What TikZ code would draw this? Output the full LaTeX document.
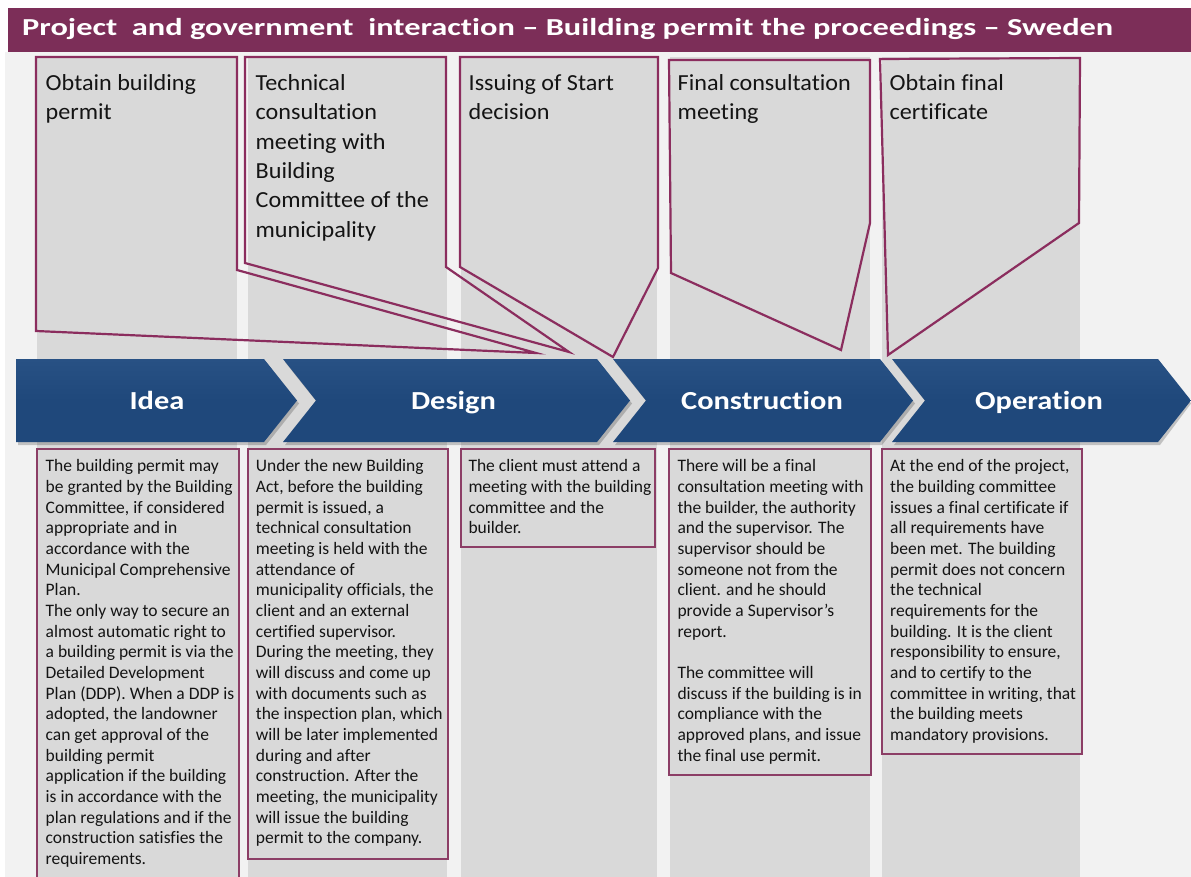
\documentclass[tikz,border=0pt]{standalone}
\usepackage{fontspec}
\usepackage{graphicx}
\setmainfont{Carlito}[Ligatures={TeX,NoCommon}]
\newfontfamily\calloutfont[FakeStretch=1.05,Ligatures=NoCommon]{Carlito}
\newfontfamily\chevfont[FakeStretch=1.17,Ligatures=NoCommon]{Carlito}
\definecolor{bgfill}{RGB}{242,242,242}
\definecolor{colfill}{RGB}{217,217,217}
\definecolor{titlebar}{RGB}{124,46,88}
\definecolor{calloutline}{RGB}{139,45,94}
\definecolor{boxline}{RGB}{140,62,102}
\definecolor{chevtop}{RGB}{40,81,132}
\definecolor{chevbot}{RGB}{31,72,123}
\definecolor{txt}{RGB}{20,20,20}
\newcommand{\ctop}{\rule{0pt}{21pt}}
\newcommand{\btop}{\rule{0pt}{16pt}}
\tikzset{
  callout/.style={draw=calloutline, line width=2.2pt, line join=miter},
  infobox/.style={draw=boxline, line width=1.2pt, fill=colfill},
  ctext/.style={anchor=north west, align=left, inner sep=0pt, text=txt,
    font=\calloutfont\fontsize{23}{29.3}\selectfont},
  btext/.style={anchor=north west, align=left, inner sep=0pt, text=txt,
    font=\fontsize{17.5}{20.67}\selectfont},
  chevlabel/.style={anchor=base, inner sep=0pt, text=white,
    font=\chevfont\bfseries\fontsize{26}{30}\selectfont},
  chevshadow/.style={fill=black, opacity=0.2},
  chevbody/.style={top color=chevtop, bottom color=chevbot, middle color=chevbot}
}
\begin{document}
\begin{tikzpicture}[x=1pt,y=-1pt]
\useasboundingbox (0,0) rectangle (1191,877);
\fill[white] (0,0) rectangle (1191,877);
\fill[bgfill] (5,52) rectangle (1191,877);
% title bar
\fill[titlebar] (8,8) rectangle (1191,52);
\node[anchor=base west, inner sep=0pt, text=white,
  font=\bfseries\fontsize{24.4}{28}\selectfont] (title) at (22,35.7)
  {\resizebox{1091pt}{\height}{Project\ \ and government\ \ interaction -- Building permit the proceedings -- Sweden}};
% gray columns
\foreach \a/\b in {37/237,248/447,461/657,670/870,882/1080}
  \fill[colfill] (\a,57) rectangle (\b,877);
% callouts
\draw[callout] (36,57) -- (237,57) -- (237,270) -- (536,353) -- (36,331) -- cycle;
\draw[callout] (245,57) -- (446,57) -- (446,267) -- (569,352) -- (245,263) -- cycle;
\draw[callout] (460,57) -- (658,57) -- (658,268) -- (613,357) -- (460,267) -- cycle;
\draw[callout] (669,60) -- (870,60) -- (870,223) -- (841,350) -- (671,273) -- cycle;
\draw[callout] (880,59) -- (1080,58) -- (1079,223) -- (888,355) -- cycle;
\node[ctext] (c1) at (45.5,69.5) {\ctop Obtain building\\permit};
\node[ctext] (c2) at (255.5,69.5) {\ctop Technical\\consultation\\meeting with\\Building\\Committee of the\\municipality};
\node[ctext] (c3) at (468.5,69.5) {\ctop Issuing of Start\\decision};
\node[ctext] (c4) at (677.5,69.5) {\ctop Final consultation\\meeting};
\node[ctext] (c5) at (889.5,69.5) {\ctop Obtain final\\certificate};
% chevrons: shadows
\begin{scope}[shift={(2,3)}]
\fill[chevshadow] (16,359) -- (264,359) -- (297,400.5) -- (264,442) -- (16,442) -- cycle;
\fill[chevshadow] (283,359) -- (597,359) -- (630,400.5) -- (597,442) -- (283,442) -- (316,400.5) -- cycle;
\fill[chevshadow] (613,359) -- (880,359) -- (913,400.5) -- (880,442) -- (613,442) -- (646,400.5) -- cycle;
\fill[chevshadow] (892,359) -- (1158,359) -- (1189,400.5) -- (1158,442) -- (892,442) -- (925,400.5) -- cycle;
\end{scope}
\shade[chevbody] (16,359) -- (264,359) -- (297,400.5) -- (264,442) -- (16,442) -- cycle;
\shade[chevbody] (283,359) -- (597,359) -- (630,400.5) -- (597,442) -- (283,442) -- (316,400.5) -- cycle;
\shade[chevbody] (613,359) -- (880,359) -- (913,400.5) -- (880,442) -- (613,442) -- (646,400.5) -- cycle;
\shade[chevbody] (892,359) -- (1158,359) -- (1191,400.5) -- (1158,442) -- (892,442) -- (925,400.5) -- cycle;
\node[chevlabel] (idea) at (157,409.5) {Idea};
\node[chevlabel] (design) at (453.5,409.5) {Design};
\node[chevlabel] (constr) at (762,409.5) {Construction};
\node[chevlabel] (oper) at (1039,409.5) {Operation};
% info boxes
\draw[infobox] (37,449) rectangle (239,885);
\draw[infobox] (248,449) rectangle (448,859);
\draw[infobox] (461,449) rectangle (655,547);
\draw[infobox] (669,449) rectangle (871,775);
\draw[infobox] (882,449) rectangle (1082,754);
\node[btext] (b1) at (45.5,455.5) {\btop The building permit may\\be granted by the Building\\Committee, if considered\\appropriate and in\\accordance with the\\Municipal Comprehensive\\Plan.\\The only way to secure an\\almost automatic right to\\a building permit is via the\\Detailed Development\\Plan (DDP). When a DDP is\\adopted, the landowner\\can get approval of the\\building permit\\application if the building\\is in accordance with the\\plan regulations and if the\\construction satisfies the\\requirements.};
\node[btext] (b2) at (255.7,455.5) {\btop Under the new Building\\Act, before the building\\permit is issued, a\\technical consultation\\meeting is held with the\\attendance of\\municipality officials, the\\client and an external\\certified supervisor.\\During the meeting, they\\will discuss and come up\\with documents such as\\the inspection plan, which\\will be later implemented\\during and after\\construction. After the\\meeting, the municipality\\will issue the building\\permit to the company.};
\node[btext] (b3) at (468.3,455.5) {\btop The client must attend a\\meeting with the building\\committee and the\\builder.};
\node[btext] (b4) at (677.3,455.5) {\btop There will be a final\\consultation meeting with\\the builder, the authority\\and the supervisor. The\\supervisor should be\\someone not from the\\client. and he should\\provide a Supervisor's\\report.\\[20.67pt]The committee will\\discuss if the building is in\\compliance with the\\approved plans, and issue\\the final use permit.};
\node[btext] (b5) at (890,455.5) {\btop At the end of the project,\\the building committee\\issues a final certificate if\\all requirements have\\been met. The building\\permit does not concern\\the technical\\requirements for the\\building. It is the client\\responsibility to ensure,\\and to certify to the\\committee in writing, that\\the building meets\\mandatory provisions.};
\end{tikzpicture}
\end{document}
